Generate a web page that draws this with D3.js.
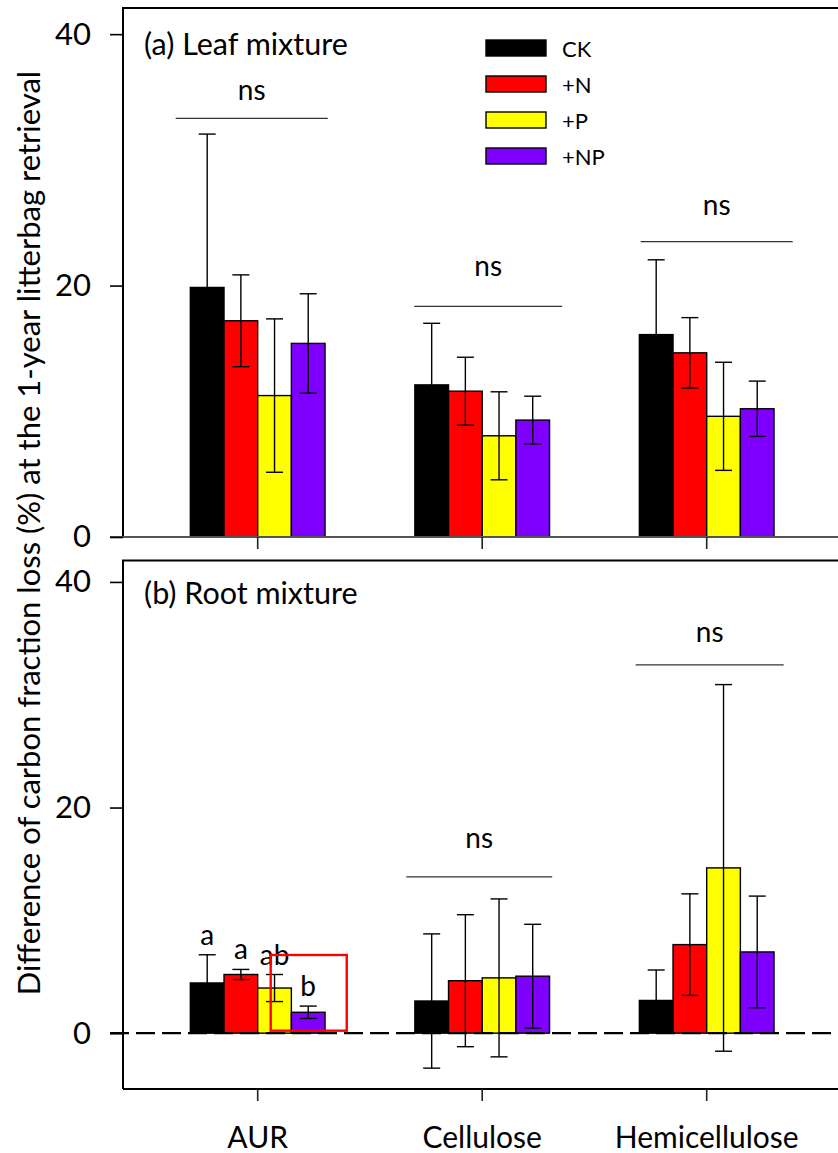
<!DOCTYPE html>
<html>
<head>
<meta charset="utf-8">
<script src="https://cdn.jsdelivr.net/npm/d3@7"></script>
<style>
  body { margin: 0; background: #fff; }
  svg { display: block; }
  text { font-family: "Lato", "Open Sans", sans-serif; fill: #000; }
</style>
</head>
<body>
<svg id="chart" width="838" height="1153"></svg>
<script>
// ---- data ---------------------------------------------------------------
const categories = ["AUR", "Cellulose", "Hemicellulose"];
const treatments = ["CK", "+N", "+P", "+NP"];
const treatmentColors = ["#000000", "#ff0000", "#ffff00", "#8000ff"];
const yTickValues = [0, 20, 40];

// (a) leaf mixture: mean difference (%) per treatment, by carbon fraction
const leafCK = [19.85, 12.1, 16.1];
const leafN  = [17.2, 11.6, 14.65];
const leafP  = [11.25, 8.05, 9.6];
const leafNP = [15.4, 9.3, 10.2];
// error bar half-lengths
const leafCKErr = [12.2, 4.9, 5.95];
const leafNErr  = [3.65, 2.7, 2.8];
const leafPErr  = [6.1, 3.5, 4.3];
const leafNPErr = [3.95, 1.9, 2.2];

// (b) root mixture
const rootCK = [4.45, 2.85, 2.9];
const rootN  = [5.2, 4.65, 7.85];
const rootP  = [4.0, 4.9, 14.65];
const rootNP = [1.85, 5.05, 7.2];
const rootCKErr = [2.5, 5.95, 2.7];
const rootNErr  = [0.45, 5.85, 4.5];
const rootPErr  = [1.2, 7.0, 16.25];
const rootNPErr = [0.55, 4.6, 4.95];

// significance marks: "ns" bracket line level and label level (y units)
const leafSig      = ["ns", "ns", "ns"];
const leafSigLine  = [33.3, 18.35, 23.5];
const leafSigLabel = [35.3, 21.3, 26.2];
const rootSig      = [null, "ns", "ns"];
const rootSigLine  = [null, 13.85, 32.65];
const rootSigLabel = [null, 17.06, 35.3];
// letters over the AUR bars of the root mixture
const rootAurLetters = ["a", "a", "ab", "b"];

// ---- layout -------------------------------------------------------------
const svg = d3.select("#chart");
const W = 838;
const frameLeft = 123;
const frameRight = 842;      // right border falls just outside the canvas
const tickLen = 13;

const x = d3.scaleBand()
  .domain(categories)
  .range([145.45, 818.95])
  .paddingInner(0.4)
  .paddingOuter(0.2);
const xInner = d3.scaleBand()
  .domain(treatments)
  .range([0, x.bandwidth()]);
const color = d3.scaleOrdinal().domain(treatments).range(treatmentColors);

// horizontal extent of each "ns" bracket, relative to the group centre (px)
const leafSigSpan = [[-82, 70], [-68, 80], [-66, 86]];
const rootSigSpan = [null, [-76, 70], [-71, 77]];

const yTitle = "Difference of carbon fraction loss (%) at the 1-year litterbag retrieval";

function drawPanel(cfg) {
  const y = d3.scaleLinear().domain(cfg.yDomain).range([cfg.bottom, cfg.top]);
  const g = svg.append("g");
  const rows = treatments.map((t, i) => ({
    t, vals: cfg.means[i], errs: cfg.errs[i]
  }));

  const groups = g.selectAll("g.grp")
    .data(categories)
    .join("g")
    .attr("class", "grp")
    .attr("transform", c => `translate(${x(c)},0)`);

  groups.each(function (c, ci) {
    const gg = d3.select(this);
    const recs = rows.map(r => ({ t: r.t, v: r.vals[ci], e: r.errs[ci] }));

    // bars
    gg.selectAll("rect")
      .data(recs)
      .join("rect")
      .attr("x", d => xInner(d.t))
      .attr("width", xInner.bandwidth())
      .attr("y", d => y(Math.max(0, d.v)))
      .attr("height", d => Math.abs(y(d.v) - y(0)))
      .attr("fill", d => color(d.t))
      .attr("stroke", "#000")
      .attr("stroke-width", 1.4);

    // error bars
    const eb = gg.selectAll("g.err")
      .data(recs)
      .join("g")
      .attr("class", "err")
      .attr("transform", d => `translate(${xInner(d.t) + xInner.bandwidth() / 2},0)`)
      .attr("stroke", "#000")
      .attr("stroke-width", 1.4);
    eb.append("line")
      .attr("y1", d => y(d.v + d.e)).attr("y2", d => y(d.v - d.e));
    eb.append("line")
      .attr("x1", -8.5).attr("x2", 8.5)
      .attr("y1", d => y(d.v + d.e)).attr("y2", d => y(d.v + d.e));
    eb.append("line")
      .attr("x1", -8.5).attr("x2", 8.5)
      .attr("y1", d => y(d.v - d.e)).attr("y2", d => y(d.v - d.e));

    // significance bracket
    if (cfg.sig[ci]) {
      const cx = x.bandwidth() / 2;
      const span = cfg.sigSpan[ci];
      gg.append("line")
        .attr("x1", cx + span[0]).attr("x2", cx + span[1])
        .attr("y1", y(cfg.sigLine[ci])).attr("y2", y(cfg.sigLine[ci]))
        .attr("stroke", "#333").attr("stroke-width", 1.3);
      gg.append("text")
        .attr("x", cx + (span[0] + span[1]) / 2)
        .attr("y", y(cfg.sigLabel[ci]) + 7)
        .attr("text-anchor", "middle")
        .attr("font-size", 28)
        .text(cfg.sig[ci]);
    }
    if (cfg.letters && ci === 0) {
      gg.selectAll("text.let")
        .data(recs)
        .join("text")
        .attr("class", "let")
        .attr("x", d => xInner(d.t) + xInner.bandwidth() / 2)
        .attr("y", d => y(d.v + d.e) - 10)
        .attr("text-anchor", "middle")
        .attr("font-size", 28)
        .text((d, i) => cfg.letters[i]);
    }
  });

  // zero line
  if (cfg.dashedZero) {
    g.append("line")
      .attr("x1", frameLeft - tickLen).attr("x2", W)
      .attr("y1", y(0)).attr("y2", y(0))
      .attr("stroke", "#000").attr("stroke-width", 2.4)
      .attr("stroke-dasharray", "19 7");
  }

  // frame
  const frame = g.append("g").attr("fill", "none");
  frame.append("path")
    .attr("d", `M${frameRight},${cfg.top}H${frameLeft}V${cfg.bottom}`)
    .attr("stroke", "#000").attr("stroke-width", 2);
  if (cfg.dashedZero) {
    frame.append("line")
      .attr("x1", frameLeft).attr("x2", frameRight)
      .attr("y1", cfg.bottom).attr("y2", cfg.bottom)
      .attr("stroke", "#000").attr("stroke-width", 2);
  } else {
    frame.append("line")
      .attr("x1", frameLeft - tickLen).attr("x2", frameRight)
      .attr("y1", cfg.bottom).attr("y2", cfg.bottom)
      .attr("stroke", "#555").attr("stroke-width", 2);
  }

  // y axis
  const ya = g.append("g")
    .attr("transform", `translate(${frameLeft},0)`)
    .call(d3.axisLeft(y).tickValues(yTickValues).tickSize(tickLen).tickPadding(19).tickFormat(d3.format("d")));
  ya.select(".domain").remove();
  ya.selectAll(".tick line").attr("stroke", "#000").attr("stroke-width", 1.6);
  ya.selectAll(".tick text").attr("font-size", 31).attr("font-family", "Lato, sans-serif").attr("fill", "#000");

  // x axis
  const xa = g.append("g")
    .attr("transform", `translate(0,${cfg.bottom})`)
    .call(d3.axisBottom(x).tickSize(12).tickPadding(26).tickFormat(cfg.xLabels ? null : () => ""));
  xa.select(".domain").remove();
  xa.selectAll(".tick line").attr("stroke", "#222").attr("stroke-width", 1.6);
  xa.selectAll(".tick text").attr("font-size", 30).attr("font-family", "Lato, sans-serif").attr("fill", "#000");

  // panel title
  g.append("text")
    .attr("x", 144)
    .attr("y", cfg.titleY)
    .attr("font-size", 30.5)
    .text(cfg.title);

  return y;
}

drawPanel({
  title: "(a) Leaf mixture", titleY: 55,
  means: [leafCK, leafN, leafP, leafNP],
  errs: [leafCKErr, leafNErr, leafPErr, leafNPErr],
  yDomain: [0, 42.08], top: 8, bottom: 537,
  sig: leafSig, sigLine: leafSigLine, sigLabel: leafSigLabel, sigSpan: leafSigSpan,
  dashedZero: false, xLabels: false
});

const yRoot = drawPanel({
  title: "(b) Root mixture", titleY: 603.5,
  means: [rootCK, rootN, rootP, rootNP],
  errs: [rootCKErr, rootNErr, rootPErr, rootNPErr],
  yDomain: [-4.95, 41.9], top: 560.5, bottom: 1089,
  sig: rootSig, sigLine: rootSigLine, sigLabel: rootSigLabel, sigSpan: rootSigSpan,
  letters: rootAurLetters,
  dashedZero: true, xLabels: true
});

// highlight box around the +P / +NP AUR bars of the root mixture
const aurX = x("AUR");
svg.append("rect")
  .attr("x", aurX + xInner("+P") + 13)
  .attr("y", yRoot(6.93))
  .attr("width", xInner.bandwidth() * 2 - 13 + 21.7)
  .attr("height", yRoot(0.22) - yRoot(6.93))
  .attr("fill", "none")
  .attr("stroke", "#ff0000")
  .attr("stroke-width", 2.4);

// legend
const legend = svg.append("g").attr("transform", "translate(486,40)");
const li = legend.selectAll("g")
  .data(treatments)
  .join("g")
  .attr("transform", (d, i) => `translate(0,${i * 36})`);
li.append("rect")
  .attr("width", 60).attr("height", 16)
  .attr("fill", d => color(d))
  .attr("stroke", "#000").attr("stroke-width", 1.4);
li.append("text")
  .attr("x", 76).attr("y", 17)
  .attr("font-size", 22)
  .text(d => d);

// shared y-axis title
svg.append("text")
  .attr("transform", "translate(40,533) rotate(-90)")
  .attr("text-anchor", "middle")
  .attr("font-size", 31)
  .text(yTitle);
</script>
</body>
</html>
